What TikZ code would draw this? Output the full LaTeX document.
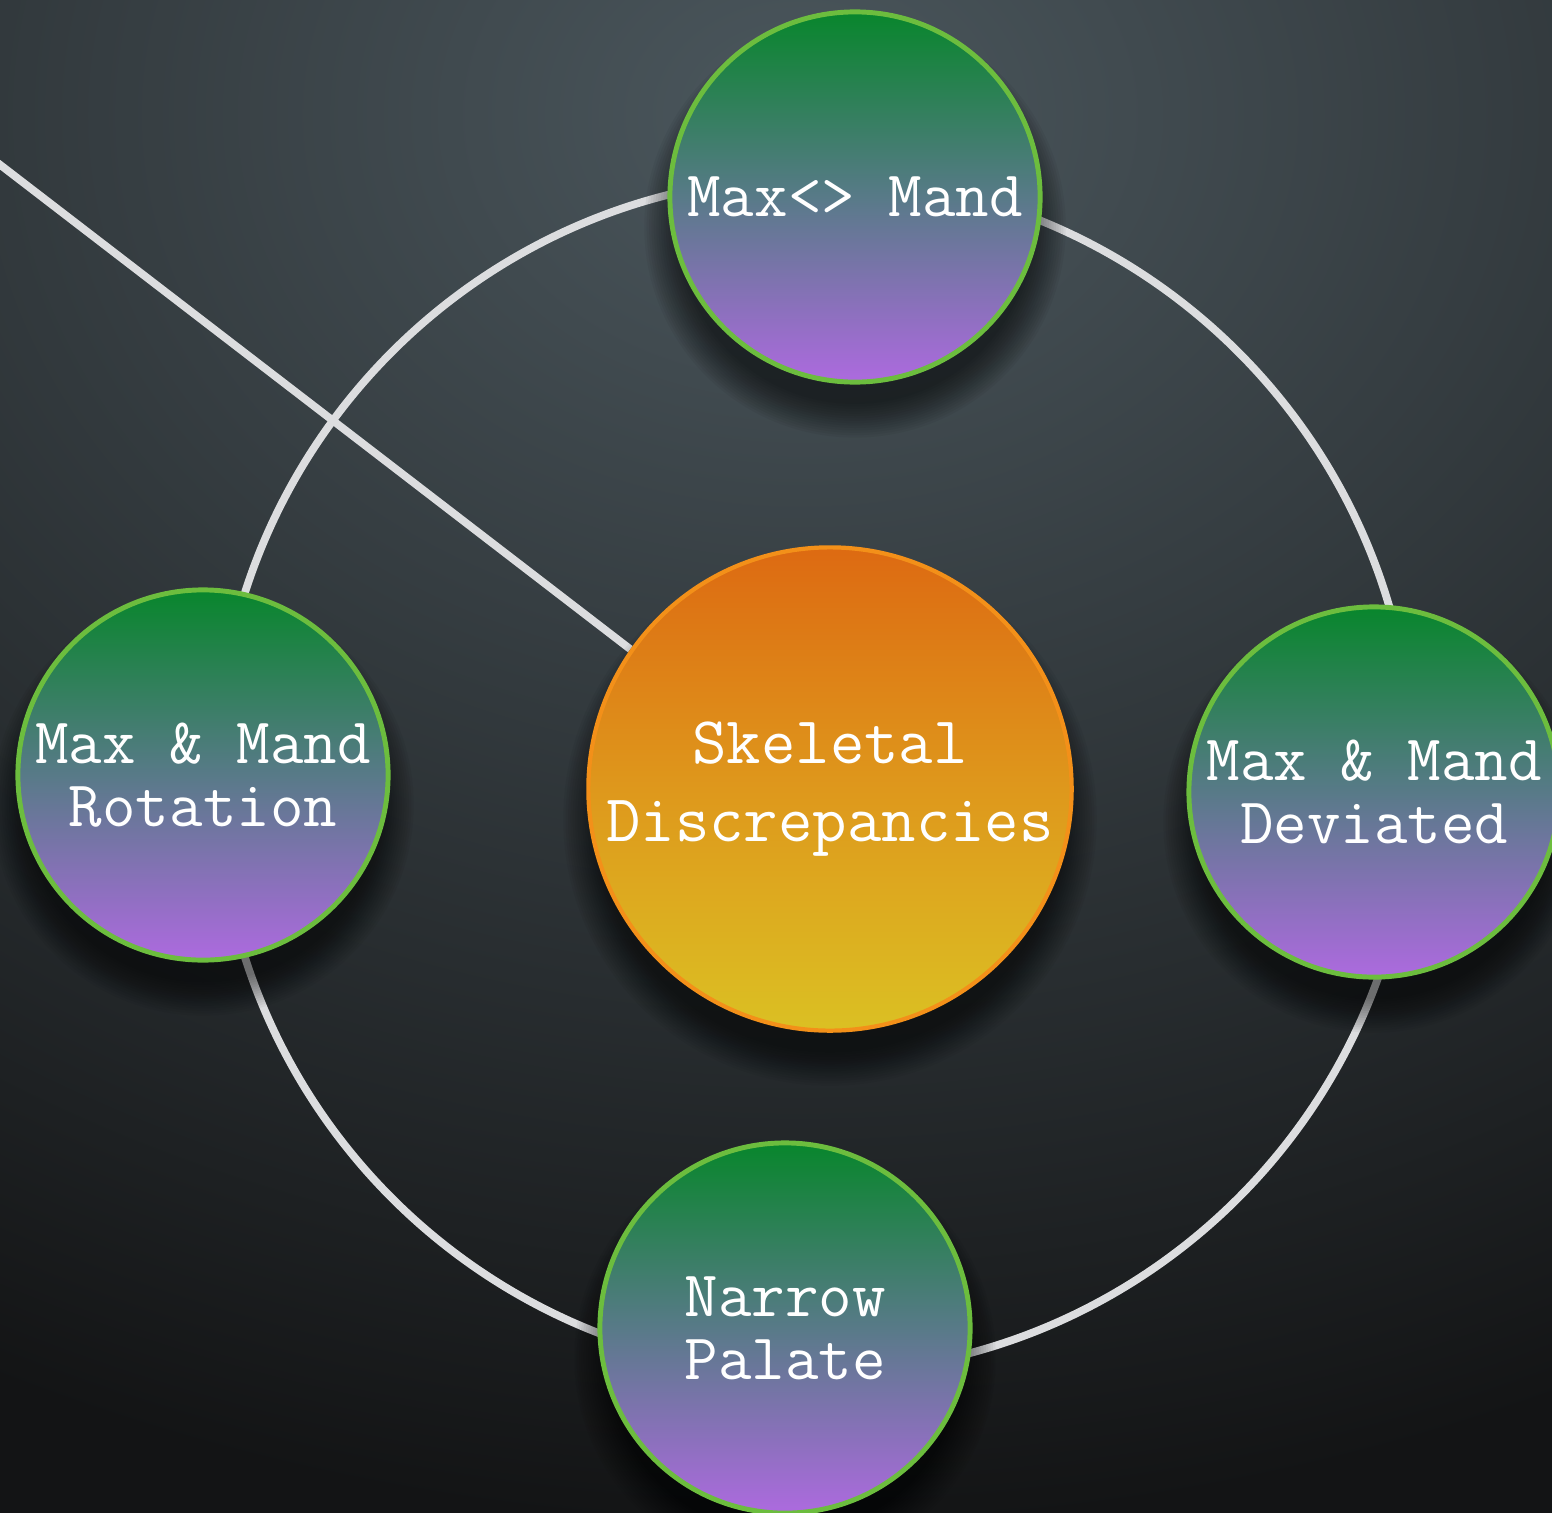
\documentclass[tikz,border=0pt]{standalone}
\usepackage{fontspec}
\pgfdeclarelayer{bgl}
\pgfdeclarelayer{backl}
\pgfsetlayers{bgl,backl,main}
\definecolor{ringgray}{HTML}{DCDDDF}
\definecolor{gtop}{HTML}{08862C}
\definecolor{gmid}{HTML}{587A88}
\definecolor{gbot}{HTML}{AD6ADF}
\definecolor{gborder}{HTML}{6CBD3E}
\definecolor{otop}{HTML}{DD6A12}
\definecolor{omid}{HTML}{DE981C}
\definecolor{obot}{HTML}{DBC023}
\definecolor{oborder}{HTML}{F39019}
\definecolor{bginner}{HTML}{4B575D}
\definecolor{bgouter}{HTML}{131415}
\tikzset{
  bubble/.style={circle, minimum size=3.70cm, inner sep=0pt, draw=gborder, line width=1.4pt,
    top color=gtop, bottom color=gbot, middle color=gmid, text=white, align=center,
    font=\ttfamily\fontsize{18.5pt}{18pt}\selectfont},
  hub/.style={circle, minimum size=4.83cm, inner sep=0pt, draw=oborder, line width=1.2pt,
    top color=otop, bottom color=obot, middle color=omid, text=white, align=center,
    font=\ttfamily\fontsize{19pt}{22pt}\selectfont},
  ringline/.style={draw=ringgray, line width=2.2pt},
  softshade/.style={fill=black, opacity=0.045},
}
\begin{document}
\begin{tikzpicture}[x=0.01cm,y=-0.01cm]
\useasboundingbox (0,0) rectangle (1552,1512);
\clip (0,0) rectangle (1552,1512);
\node[hub] (c) at (830,789) {Skeletal\\Discrepancies};
\node[bubble] (t) at (855,197) {Max<> Mand};
\node[bubble] (l) at (203,775) {Max \& Mand\\Rotation};
\node[bubble] (r) at (1374,792) {Max \& Mand\\Deviated};
\node[bubble] (b) at (785,1328) {Narrow\\Palate};
\coordinate (ringc) at (815,775);
\coordinate (s) at (-10,157);
\begin{pgfonlayer}{bgl}
  \begin{scope}
    \clip (0,0) rectangle (1552,1512);
    \shade[inner color=bginner, outer color=bgouter] (-1000,-1300) rectangle (2600,1530);
  \end{scope}
\end{pgfonlayer}
\begin{pgfonlayer}{backl}
  \begin{scope}
    \clip (0,0) rectangle (1552,1512);
    \draw[ringline] (ringc) circle[radius=5.98cm];
    \draw[ringline] (s) -- (c.145);
    \foreach \n/\r in {t/187, l/187, r/187, b/187, c/243}{
      \foreach \k in {1,...,15}{
        \pgfmathsetmacro\rr{(\r+26-2.4*\k)*0.28453}
        \fill[softshade] ([yshift=-8.5pt]\n.center) circle[radius=\rr pt];
      }
    }
  \end{scope}
\end{pgfonlayer}
\end{tikzpicture}
\end{document}
